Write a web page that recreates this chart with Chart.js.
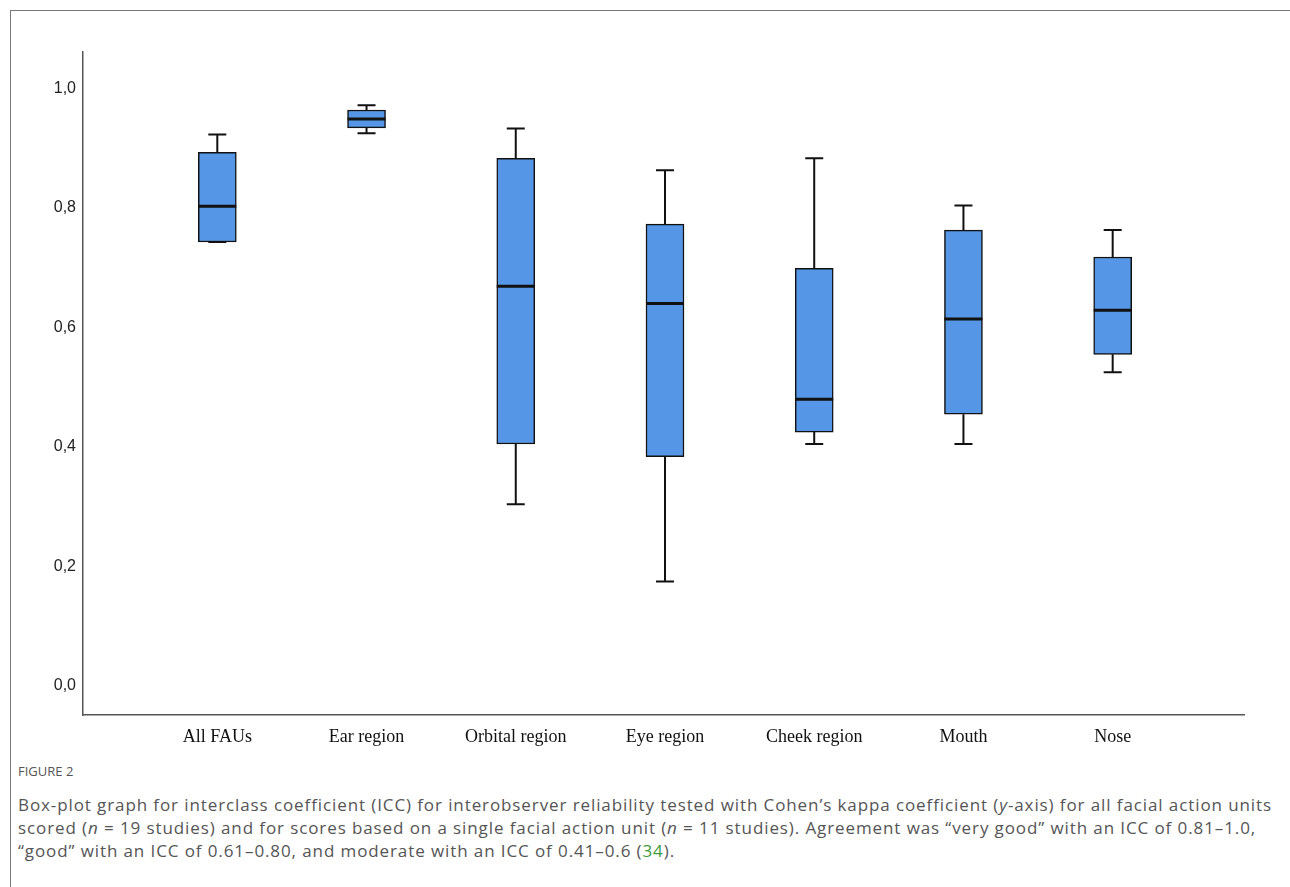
<!DOCTYPE html>
<html>
<head>
<meta charset="utf-8">
<script src="https://cdn.jsdelivr.net/npm/chart.js@4"></script>
<style>
  html, body { margin: 0; padding: 0; background: #fff; }
  body { width: 1290px; height: 887px; position: relative; overflow: hidden; }
  .frame { position: absolute; left: 10px; top: 10px; width: 1300px; height: 900px;
           border-top: 1px solid #777; border-left: 1px solid #777; }
  #wrap { position: absolute; left: 0; top: 0; width: 1290px; height: 760px; }
  .fig-label { position: absolute; left: 18px; top: 762px; font: 13px "Open Sans", sans-serif; color: #555; }
  .caption { position: absolute; left: 18px; top: 793px; white-space: nowrap;
             font: 17px "Open Sans", sans-serif; letter-spacing: 0.9px; line-height: 23px; color: #555; }
  .caption a { color: #3a9c3a; text-decoration: none; }
</style>
</head>
<body>
<div class="frame"></div>
<div id="wrap"><canvas id="box"></canvas></div>
<div class="fig-label">FIGURE 2</div>
<div class="caption">Box-plot graph for interclass coefficient (ICC) for interobserver reliability tested with Cohen’s kappa coefficient (<i>y</i>-axis) for all facial action units<br>scored (<i>n</i> = 19 studies) and for scores based on a single facial action unit (<i>n</i> = 11 studies). Agreement was “very good” with an ICC of 0.81–1.0,<br>“good” with an ICC of 0.61–0.80, and moderate with an ICC of 0.41–0.6 (<a>34</a>).</div>

<script>
// ── 資料 ─────────────────────────────
const CATEGORIES = ["All FAUs", "Ear region", "Orbital region", "Eye region", "Cheek region", "Mouth", "Nose"];
const WHISKER_LOW  = [0.743, 0.925, 0.304, 0.175, 0.405, 0.405, 0.525];
const Q1           = [0.743, 0.934, 0.405, 0.384, 0.425, 0.455, 0.555];
const MEDIAN       = [0.803, 0.949, 0.669, 0.640, 0.480, 0.614, 0.629];
const Q3           = [0.893, 0.964, 0.883, 0.773, 0.699, 0.763, 0.718];
const WHISKER_HIGH = [0.923, 0.972, 0.933, 0.863, 0.883, 0.804, 0.763];
const Y_TICKS = [0, 0.2, 0.4, 0.6, 0.8, 1.0];

const BOX_COLOR = "#5596e6";
const CAP_HALF = 9;

// 鬚線與中位數
const whiskerPlugin = {
  id: "whiskers",
  afterDatasetsDraw(chart) {
    const { ctx, scales: { x, y } } = chart;
    const meta = chart.getDatasetMeta(0);
    ctx.save();
    ctx.strokeStyle = "#111";
    CATEGORIES.forEach((_, i) => {
      const cx = x.getPixelForValue(i + 1);
      const half = meta.data[i].width / 2;
      ctx.lineWidth = 2;
      ctx.beginPath();
      // upper whisker
      ctx.moveTo(cx, y.getPixelForValue(Q3[i]));
      ctx.lineTo(cx, y.getPixelForValue(WHISKER_HIGH[i]));
      ctx.moveTo(cx - CAP_HALF, y.getPixelForValue(WHISKER_HIGH[i]));
      ctx.lineTo(cx + CAP_HALF, y.getPixelForValue(WHISKER_HIGH[i]));
      // lower whisker
      ctx.moveTo(cx, y.getPixelForValue(Q1[i]));
      ctx.lineTo(cx, y.getPixelForValue(WHISKER_LOW[i]));
      ctx.moveTo(cx - CAP_HALF, y.getPixelForValue(WHISKER_LOW[i]));
      ctx.lineTo(cx + CAP_HALF, y.getPixelForValue(WHISKER_LOW[i]));
      ctx.stroke();
      // median
      ctx.lineWidth = 3;
      ctx.beginPath();
      ctx.moveTo(cx - half, y.getPixelForValue(MEDIAN[i]));
      ctx.lineTo(cx + half, y.getPixelForValue(MEDIAN[i]));
      ctx.stroke();
    });
    ctx.restore();
  },
};

new Chart(document.getElementById("box"), {
  type: "bar",
  data: {
    datasets: [{
      data: CATEGORIES.map((_, i) => ({ x: i + 1, y: [Q1[i], Q3[i]] })),
      backgroundColor: BOX_COLOR,
      borderColor: "#111",
      borderWidth: 1.5,
      borderSkipped: false,
      barThickness: 38,
    }],
  },
  options: {
    responsive: true,
    maintainAspectRatio: false,
    animation: false,
    layout: { padding: { top: 52, right: 46, left: 0, bottom: 0 } },
    plugins: { legend: { display: false }, tooltip: { enabled: false } },
    scales: {
      x: {
        type: "linear",
        offset: false,
        min: 0.1,
        max: 7.88,
        grid: { display: false, drawTicks: false, offset: false },
        border: { display: true, color: "#555", width: 1.5 },
        afterBuildTicks: s => { s.ticks = CATEGORIES.map((_, i) => ({ value: i + 1 })); },
        afterFit: s => { s.height = 45; },
        ticks: {
          autoSkip: false,
          maxRotation: 0,
          padding: 11,
          color: "#111",
          font: { family: "'Liberation Serif', 'Times New Roman', serif", size: 18 },
          callback: v => CATEGORIES[Math.round(v) - 1] ?? "",
        },
      },
      y: {
        min: -0.0485,
        max: 1.061,
        grid: { display: false, drawTicks: false },
        border: { display: true, color: "#555", width: 1.5 },
        afterBuildTicks: s => { s.ticks = Y_TICKS.map(v => ({ value: v })); },
        afterFit: s => { s.width = 83; },
        ticks: {
          padding: 7,
          color: "#222",
          font: { family: "'Liberation Sans', Arial, sans-serif", size: 16 },
          callback: v => v.toFixed(1).replace(".", ","),
        },
      },
    },
  },
  plugins: [whiskerPlugin],
});
</script>
</body>
</html>
